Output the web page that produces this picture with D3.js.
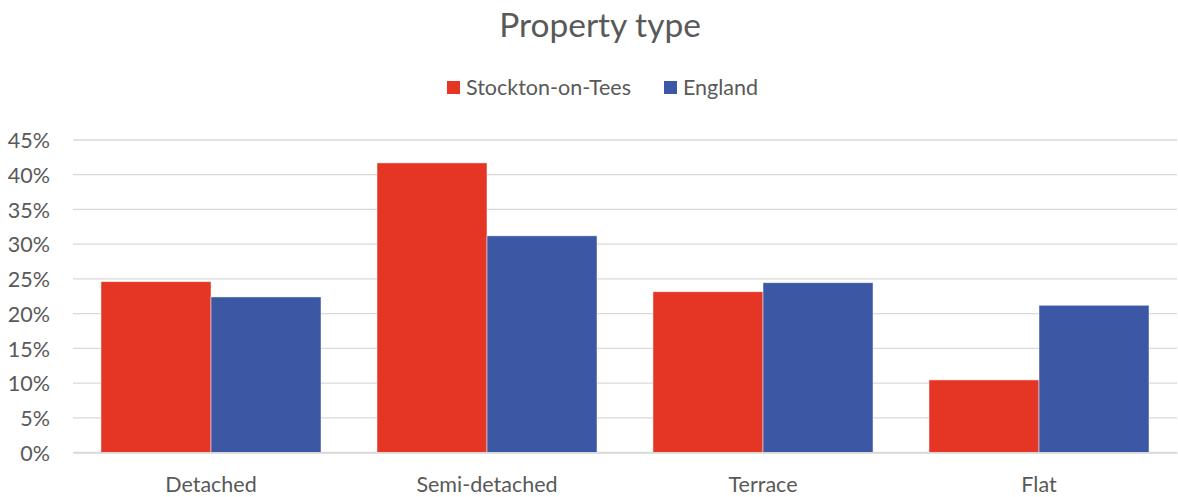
<!DOCTYPE html>
<html><head><meta charset="utf-8">
<script src="https://cdn.jsdelivr.net/npm/d3@7"></script>
<style>body{margin:0;background:#fff}svg{display:block}text{font-family:Lato,"Open Sans",sans-serif;fill:#595959}</style>
</head><body>
<svg id="c" width="1178" height="497"></svg>
<script>
const categories = ["Detached","Semi-detached","Terrace","Flat"];
const seriesNames = ["Stockton-on-Tees","England"];
const stockton = [24.6, 41.7, 23.15, 10.45];
const england = [22.4, 31.2, 24.45, 21.2];
const yTicks = [0,5,10,15,20,25,30,35,40,45];
const colors = ["#e43525","#3c57a3"];

const svg = d3.select("#c");
const m = {left:73, right:1177, top:140, bottom:452.5};
const x = d3.scaleBand().domain(categories).range([m.left,m.right]).paddingInner(0.2028).paddingOuter(0.1014);
const x1 = d3.scaleBand().domain(seriesNames).range([0,x.bandwidth()]);
const y = d3.scaleLinear().domain([0,45]).range([m.bottom,m.top]);

svg.append("g").selectAll("line").data(yTicks).join("line")
  .attr("x1",m.left).attr("x2",m.right).attr("y1",d=>y(d)).attr("y2",d=>y(d))
  .attr("stroke","#d9d9d9").attr("stroke-width",1.3);

const yAxis = d3.axisLeft(y).tickValues(yTicks).tickFormat(d=>d+"%").tickSize(0).tickPadding(0);
const ya = svg.append("g").attr("transform","translate(50,0)").call(yAxis);
ya.select(".domain").remove();
ya.selectAll("text").style("font-size","21.5px").attr("dy","0.36em").attr("fill","#595959");

const data = [stockton, england];
seriesNames.forEach((s,i)=>{
  svg.append("g").selectAll("rect").data(categories).join("rect")
    .attr("x",c=>x(c)+x1(s)).attr("width",x1.bandwidth())
    .attr("y",(c,j)=>y(data[i][j])).attr("height",(c,j)=>y(0)-y(data[i][j]))
    .attr("fill",colors[i]).attr("stroke","rgba(255,255,255,0.6)").attr("stroke-width",0.8);
});

const xAxis = d3.axisBottom(x).tickSize(0).tickPadding(0);
const xa = svg.append("g").attr("transform",`translate(0,${m.bottom})`).call(xAxis);
xa.select(".domain").attr("stroke","#d9d9d9").attr("stroke-width",1.3);
xa.selectAll("text").style("font-size","21.5px").attr("y",39).attr("dy",0).attr("fill","#595959");

svg.append("text").attr("x",600).attr("y",37).attr("text-anchor","middle").style("font-size","33.5px").text("Property type");

const legX = [447, 664];
seriesNames.forEach((s,i)=>{
  svg.append("rect").attr("x",legX[i]).attr("y",81).attr("width",13).attr("height",13).attr("fill",colors[i]);
  svg.append("text").attr("x",legX[i]+19).attr("y",95).style("font-size","21.5px").text(s);
});
</script>
</body></html>
